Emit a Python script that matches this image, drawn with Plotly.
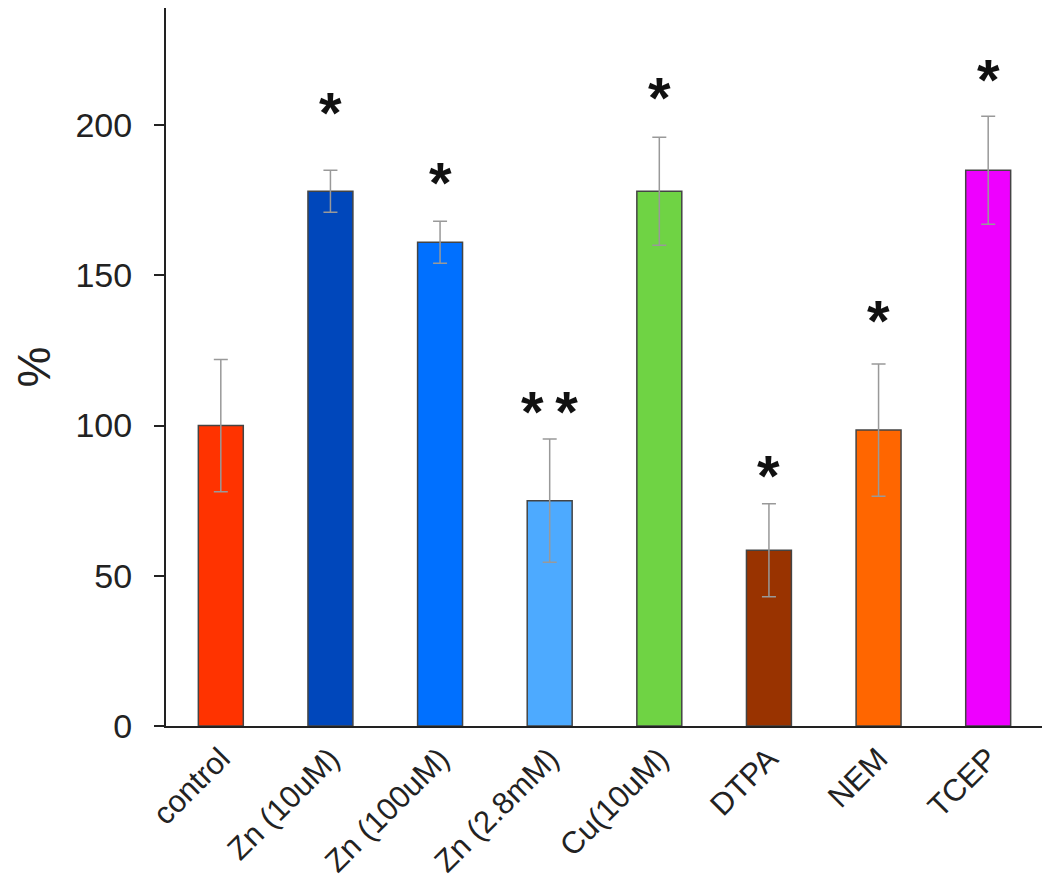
import plotly.graph_objects as go

categories = ["control", "Zn (10uM)", "Zn (100uM)", "Zn (2.8mM)", "Cu(10uM)", "DTPA", "NEM", "TCEP"]
values = [100, 178, 161, 75, 178, 58.5, 98.5, 185]
errors = [22, 7, 7, 20.5, 18, 15.5, 22, 18]
colors = ["#FF3300", "#0047BB", "#0070FF", "#4DAAFF", "#6FD344", "#993300", "#FF6600", "#EE00FF"]
stars = ["", "*", "*", "*\u2009*", "*", "*", "*", "*"]
star_y = [0, 208, 184.5, 108.5, 213, 87, 138.5, 219]

fig = go.Figure()
fig.add_trace(go.Bar(
    x=categories, y=values, width=0.41,
    marker=dict(color=colors, line=dict(color="#444444", width=1.5)),
    error_y=dict(type="data", array=errors, visible=True, color="#999999", thickness=1.5, width=7),
))

for c, s, yy in zip(categories, stars, star_y):
    if s:
        fig.add_annotation(x=c, y=yy, text="<b>" + s + "</b>", showarrow=False, yanchor="middle",
                           yshift=-11, font=dict(size=58, color="#111111", family="Liberation Sans"))

fig.update_layout(
    width=1042, height=886,
    margin=dict(l=158, r=7, t=0, b=168),
    plot_bgcolor="white", paper_bgcolor="white",
    showlegend=False,
    font=dict(family="Liberation Sans", color="#222222"),
)
fig.update_xaxes(showline=True, linecolor="#222222", linewidth=2, ticks="",
                 tickangle=-45, tickfont=dict(size=31), showgrid=False)
fig.update_yaxes(range=[0, 239], showline=True, linecolor="#222222", linewidth=2,
                 ticks="outside", ticklen=10, tickwidth=2, tickcolor="#222222",
                 tickvals=[0, 50, 100, 150, 200], tickfont=dict(size=34),
                 ticklabelstandoff=15,
                 showgrid=False, zeroline=False,
                 title=dict(text="%", font=dict(size=46), standoff=30))

fig.write_html("out.html")
